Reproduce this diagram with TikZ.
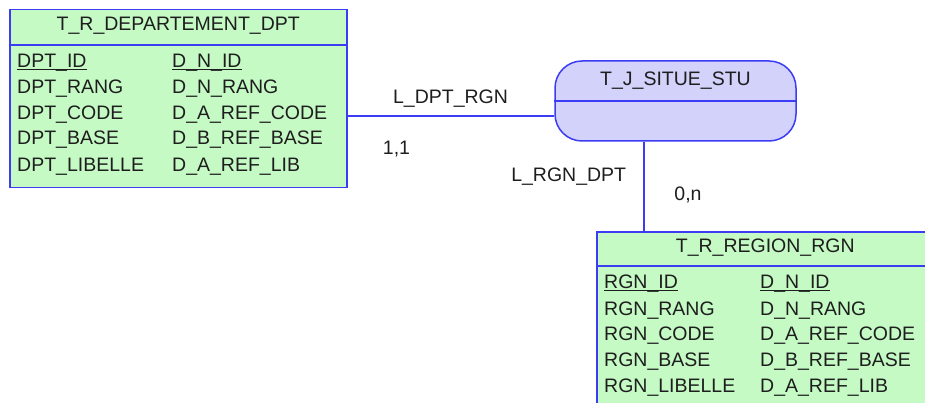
\documentclass[tikz,border=0pt]{standalone}
\usepackage{fontspec}
\setmainfont{Liberation Sans}
\definecolor{entfill}{RGB}{197,250,197}
\definecolor{relfill}{RGB}{210,210,250}
\definecolor{edgeblue}{RGB}{60,60,245}
\definecolor{inkcol}{RGB}{30,30,30}
\newcommand\idul[1]{\setbox0\hbox{#1}\rlap{\rule[-2.2pt]{\wd0}{1pt}}\box0}
\begin{document}
\begin{tikzpicture}[x=1pt,y=-1pt,
  entity/.style={draw=edgeblue, fill=entfill, line width=1.5pt, minimum width=337pt, minimum height=178pt, anchor=north west, inner sep=0pt},
  relbox/.style={draw=edgeblue, fill=relfill, line width=1.5pt, rounded corners=27pt, minimum width=241pt, minimum height=80pt, inner sep=0pt},
  sepline/.style={draw=edgeblue, line width=1.5pt},
  link/.style={draw=edgeblue, line width=1.5pt},
  txt/.style={anchor=base west, inner sep=0pt, font=\fontsize{19.5}{19.5}\selectfont, text=inkcol},
  ctxt/.style={anchor=base, inner sep=0pt, font=\fontsize{19.5}{19.5}\selectfont, text=inkcol}]
\useasboundingbox (0,0) rectangle (925,403);
\clip (0,0) rectangle (925,403);
\fill[white] (0,0) rectangle (925,403);

% Entity DPT
\node[entity] (dpt) at (9,9) {};
\draw[sepline] ([yshift=-36pt]dpt.north west) -- ([yshift=-36pt]dpt.north east);
\node[ctxt] (dpth) at ([shift={(0,22)}]dpt.north) {T\_R\_DEPARTEMENT\_DPT};
\node[txt] (d1a) at ([shift={(8,59)}]dpt.north west) {\idul{DPT\_ID}};
\node[txt] (d2a) at ([shift={(8,85)}]dpt.north west) {DPT\_RANG};
\node[txt] (d3a) at ([shift={(8,111)}]dpt.north west) {DPT\_CODE};
\node[txt] (d4a) at ([shift={(8,136)}]dpt.north west) {DPT\_BASE};
\node[txt] (d5a) at ([shift={(8,163)}]dpt.north west) {DPT\_LIBELLE};
\node[txt] (d1b) at ([shift={(163,59)}]dpt.north west) {\idul{D\_N\_ID}};
\node[txt] (d2b) at ([shift={(163,85)}]dpt.north west) {D\_N\_RANG};
\node[txt] (d3b) at ([shift={(163,111)}]dpt.north west) {D\_A\_REF\_CODE};
\node[txt] (d4b) at ([shift={(163,136)}]dpt.north west) {D\_B\_REF\_BASE};
\node[txt] (d5b) at ([shift={(163,163)}]dpt.north west) {D\_A\_REF\_LIB};

% Relation STU
\node[relbox] (stu) at (675.5,101) {};
\draw[sepline] (stu.west) -- (stu.east);
\node[ctxt] (stuh) at ([shift={(0,25.7)}]stu.north) {T\_J\_SITUE\_STU};

% Entity RGN
\node[entity] (rgn) at (596,231) {};
\draw[sepline] ([yshift=-35pt]rgn.north west) -- ([yshift=-35pt]rgn.north east);
\node[ctxt] (rgnh) at ([shift={(0,21)}]rgn.north) {T\_R\_REGION\_RGN};
\node[txt] (r1a) at ([shift={(8,57.3)}]rgn.north west) {\idul{RGN\_ID}};
\node[txt] (r2a) at ([shift={(8,84)}]rgn.north west) {RGN\_RANG};
\node[txt] (r3a) at ([shift={(8,109.7)}]rgn.north west) {RGN\_CODE};
\node[txt] (r4a) at ([shift={(8,135.7)}]rgn.north west) {RGN\_BASE};
\node[txt] (r5a) at ([shift={(8,161.7)}]rgn.north west) {RGN\_LIBELLE};
\node[txt] (r1b) at ([shift={(164,57.3)}]rgn.north west) {\idul{D\_N\_ID}};
\node[txt] (r2b) at ([shift={(164,84)}]rgn.north west) {D\_N\_RANG};
\node[txt] (r3b) at ([shift={(164,109.7)}]rgn.north west) {D\_A\_REF\_CODE};
\node[txt] (r4b) at ([shift={(164,135.7)}]rgn.north west) {D\_B\_REF\_BASE};
\node[txt] (r5b) at ([shift={(164,161.7)}]rgn.north west) {D\_A\_REF\_LIB};

% Connectors
\draw[link] (dpt.east |- 0,116) -- (stu.west |- 0,116);
\draw[link] (stu.south -| 644,0) -- (rgn.north -| 644,0);

% Labels
\node[ctxt] (l1) at (450.5,103.3) {L\_DPT\_RGN};
\node[ctxt] (c1) at (396.5,155) {1,1};
\node[ctxt] (l2) at (568.7,181.7) {L\_RGN\_DPT};
\node[ctxt] (c2) at (688,200.7) {0,n};
\end{tikzpicture}
\end{document}
